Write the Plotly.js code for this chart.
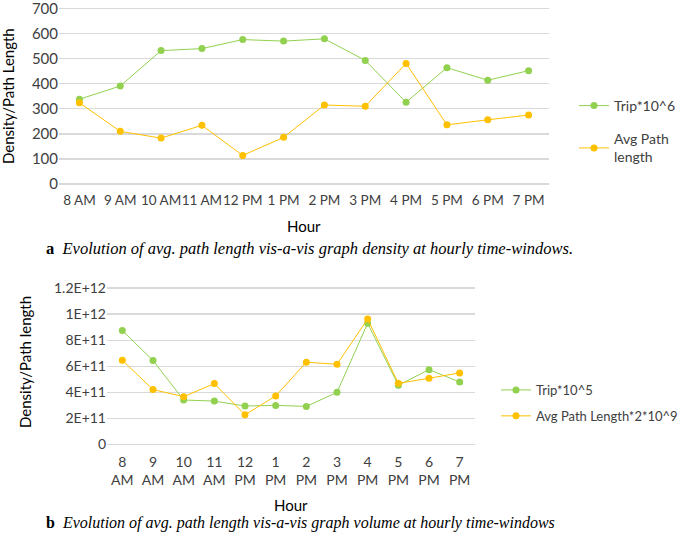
<!DOCTYPE html>
<html>
<head>
<meta charset="utf-8">
<script src="https://cdn.plot.ly/plotly-3.0.1.min.js"></script>
<style>html,body{margin:0;padding:0;background:#fff;}</style>
</head>
<body>
<div id="chart" style="width:685px;height:540px;"></div>
<script>
// ---- data ----
const hoursA = ['8 AM','9 AM','10 AM','11 AM','12 PM','1 PM','2 PM','3 PM','4 PM','5 PM','6 PM','7 PM'];
const hoursB = ['8<br>AM','9<br>AM','10<br>AM','11<br>AM','12<br>PM','1<br>PM','2<br>PM','3<br>PM','4<br>PM','5<br>PM','6<br>PM','7<br>PM'];
const tripDensity = [338, 391, 532, 540, 576, 570, 579, 493, 326, 464, 414, 452];
const avgPathLength = [324, 210, 183, 234, 114, 186, 315, 310, 481, 236, 256, 275];
const tripVolume = [0.874e12, 0.644e12, 0.341e12, 0.333e12, 0.295e12, 0.300e12, 0.292e12, 0.400e12, 0.930e12, 0.454e12, 0.574e12, 0.479e12];
const avgPathScaled = [0.646e12, 0.421e12, 0.367e12, 0.467e12, 0.228e12, 0.372e12, 0.631e12, 0.615e12, 0.962e12, 0.469e12, 0.508e12, 0.549e12];
const yTickValsA = [0, 100, 200, 300, 400, 500, 600, 700];
const yTickValsB = [0, 2e11, 4e11, 6e11, 8e11, 1e12, 1.2e12];
const yTickTextB = ['0', '2E+11', '4E+11', '6E+11', '8E+11', '1E+12', '1.2E+12'];
const captionA = 'Evolution of avg. path length vis-a-vis graph density at hourly time-windows.';
const captionB = 'Evolution of avg. path length vis-a-vis graph volume at hourly time-windows';

const GREEN = '#92D050', ORANGE = '#FFC000', GRID = '#D9D9D9', TXT = '#404040';
const FONT = 'Lato, "Open Sans", sans-serif';
const SERIF = '"Liberation Serif", "DejaVu Serif", serif';

const traces = [
  {x: hoursA, y: tripDensity, name: 'Trip*10^6', type: 'scatter', mode: 'lines+markers',
   line: {color: GREEN, width: 1}, marker: {color: GREEN, size: 7}, xaxis: 'x', yaxis: 'y', legend: 'legend', legendgroup: 'a1'},
  {x: hoursA, y: avgPathLength, name: 'Avg Path<br>length', type: 'scatter', mode: 'lines+markers',
   line: {color: ORANGE, width: 1}, marker: {color: ORANGE, size: 7}, xaxis: 'x', yaxis: 'y', legend: 'legend', legendgroup: 'a2'},
  {x: hoursA, y: tripVolume, name: 'Trip*10^5', type: 'scatter', mode: 'lines+markers',
   line: {color: GREEN, width: 1}, marker: {color: GREEN, size: 7}, xaxis: 'x2', yaxis: 'y2', legend: 'legend2', legendgroup: 'b1'},
  {x: hoursA, y: avgPathScaled, name: 'Avg Path Length*2*10^9', type: 'scatter', mode: 'lines+markers',
   line: {color: ORANGE, width: 1}, marker: {color: ORANGE, size: 7}, xaxis: 'x2', yaxis: 'y2', legend: 'legend2', legendgroup: 'b2'}
];

const layout = {
  width: 685, height: 540,
  margin: {l: 0, r: 0, t: 0, b: 0},
  paper_bgcolor: '#fff', plot_bgcolor: '#fff',
  font: {family: FONT, color: TXT, size: 14},
  showlegend: true,
  xaxis: {domain: [59/685, 549/685], anchor: 'y', type: 'category', range: [-0.5, 11.5],
    showgrid: false, zeroline: false, showline: false, ticks: '', tickangle: 0,
    tickfont: {size: 13.5, color: TXT}, ticklabelstandoff: 3,
    tickvals: hoursA, ticktext: hoursA, automargin: false, fixedrange: true},
  yaxis: {domain: [1 - 187/540, 1 - 5.5/540], anchor: 'x', range: [-12, 712],
    tickvals: yTickValsA, ticklabeloverflow: 'allow',
    showgrid: true, gridcolor: GRID, gridwidth: 1.3, zeroline: false,
    showline: false, ticks: '', tickfont: {size: 15, color: TXT}, automargin: false, fixedrange: true},
  xaxis2: {domain: [107/685, 475/685], anchor: 'y2', type: 'category', range: [-0.5, 11.5],
    showgrid: false, zeroline: false, showline: false, ticks: '', tickangle: 0,
    tickfont: {size: 14, color: TXT}, ticklabelstandoff: 4,
    tickvals: hoursA, ticktext: hoursB, automargin: false, fixedrange: true},
  yaxis2: {domain: [1 - 447.5/540, 1 - 285/540], anchor: 'x2', range: [-2.3e10, 1.223e12],
    tickvals: yTickValsB, ticktext: yTickTextB, ticklabeloverflow: 'allow',
    showgrid: true, gridcolor: GRID, gridwidth: 1.3, zeroline: false,
    showline: false, ticks: '', tickfont: {size: 14, color: TXT}, automargin: false, fixedrange: true},
  legend: {x: 574/685, y: 1 - 90/540, xanchor: 'left', yanchor: 'top', bgcolor: 'rgba(0,0,0,0)',
    font: {size: 14, color: TXT}, tracegroupgap: 12, itemwidth: 30},
  legend2: {x: 496/685, y: 1 - 375/540, xanchor: 'left', yanchor: 'top', bgcolor: 'rgba(0,0,0,0)',
    font: {size: 13, color: TXT}, tracegroupgap: 6, itemwidth: 30},
  annotations: [
    {text: 'Density/Path Length', textangle: -90, xref: 'paper', yref: 'paper', x: 8/685, y: 1 - 96/540,
     xanchor: 'center', yanchor: 'middle', showarrow: false, font: {size: 15, color: '#000'}},
    {text: 'Hour', xref: 'paper', yref: 'paper', x: 304/685, y: 1 - 226/540,
     xanchor: 'center', yanchor: 'middle', showarrow: false, font: {size: 15, color: '#000'}},
    {text: 'Density/Path length', textangle: -90, xref: 'paper', yref: 'paper', x: 25/685, y: 1 - 362/540,
     xanchor: 'center', yanchor: 'middle', showarrow: false, font: {size: 15, color: '#000'}},
    {text: 'Hour', xref: 'paper', yref: 'paper', x: 291/685, y: 1 - 505/540,
     xanchor: 'center', yanchor: 'middle', showarrow: false, font: {size: 15, color: '#000'}},
    {text: '<b>a</b>  <i>' + captionA + '</i>', xref: 'paper', yref: 'paper', x: 44/685, y: 1 - 248/540,
     xanchor: 'left', yanchor: 'middle', showarrow: false, font: {family: SERIF, size: 16.5, color: '#000'}},
    {text: '<b>b</b>  <i>' + captionB + '</i>', xref: 'paper', yref: 'paper', x: 44/685, y: 1 - 523/540,
     xanchor: 'left', yanchor: 'middle', showarrow: false, font: {family: SERIF, size: 16, color: '#000'}}
  ]
};

Plotly.newPlot('chart', traces, layout, {displayModeBar: false, staticPlot: true});
</script>
</body>
</html>
